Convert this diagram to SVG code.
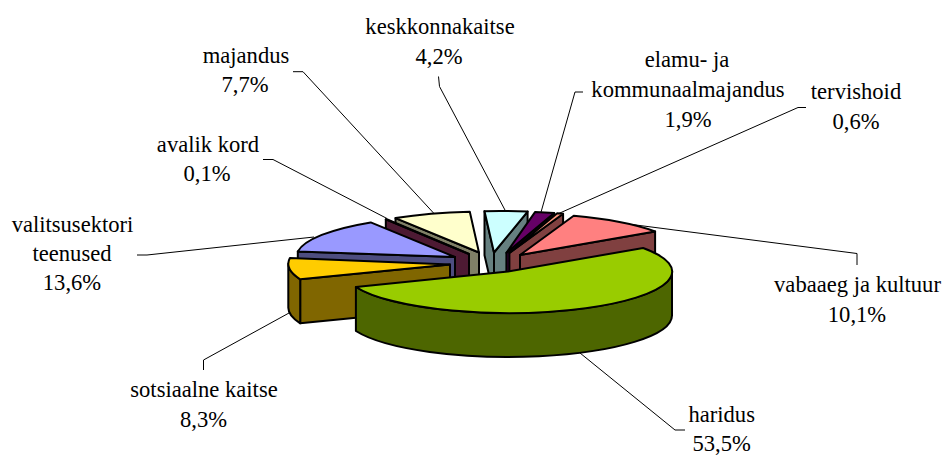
<svg xmlns="http://www.w3.org/2000/svg" width="947" height="455" viewBox="0 0 947 455">
<style>
.f{stroke:#000;stroke-width:2;stroke-linejoin:round}
text{font-family:Liberation Serif,Times New Roman,Times,Nimbus Roman,DejaVu Serif,Noto Serif,serif;font-size:22.6px;fill:#000;text-anchor:middle}
.ld{fill:none;stroke:#000;stroke-width:1}
</style>
<rect width="947" height="455" fill="#fff"/>
<g id="majandus">
<path class="f" fill="#808066" d="M479,252.5 L395.5,218.1 L395.5,262.1 L479,296.5 Z"/>
<path class="f" fill="#FFFFCC" d="M479,252.5 L395.5,218.1 A164,41.5 0 0 1 469.8,211.7 Z"/>
<text x="246" y="63.3">majandus</text>
<text x="245" y="92">7,7%</text>
</g>
<g id="avalik-kord">
<path class="f" fill="#4D1A33" d="M469,254 L385.8,219.3 L385.8,263.3 L469,298 Z"/>
<path class="f" fill="#993366" d="M469,254 L385.8,219.3 A164,41.5 0 0 1 386.7,219.2 Z"/>
<text x="208" y="151.5">avalik kord</text>
<text x="207" y="181">0,1%</text>
</g>
<g id="keskkonnakaitse">
<path class="f" fill="#668080" d="M494,252.5 L484.5,211.2 L484.5,255.2 L494,296.5 Z"/>
<path class="f" fill="#668080" d="M494,252.5 L527.6,211.6 L527.6,255.6 L494,296.5 Z"/>
<path class="f" fill="#CCFFFF" d="M494,252.5 L484.5,211.2 A164,41.5 0 0 1 527.6,211.6 Z"/>
<text x="440" y="34">keskkonnakaitse</text>
<text x="439" y="63.5">4,2%</text>
</g>
<g id="elamu">
<path class="f" fill="#330033" d="M506.4,252.8 L554.2,213.1 L554.2,257.1 L506.4,296.8 Z"/>
<path class="f" fill="#660066" d="M506.4,252.8 L535.2,211.9 A164,41.5 0 0 1 554.2,213.1 Z"/>
<text x="687" y="67">elamu- ja</text>
<text x="688" y="97">kommunaalmajandus</text>
<text x="688" y="126.5">1,9%</text>
</g>
<g id="tervishoid">
<path class="f" fill="#804040" d="M509.4,253 L563.1,213.8 L563.1,257.8 L509.4,297 Z"/>
<path class="f" fill="#FF9980" d="M509.4,253 L557.2,213.3 A164,41.5 0 0 1 563.1,213.8 Z"/>
<text x="856" y="99">tervishoid</text>
<text x="856" y="128.5">0,6%</text>
</g>
<g id="vabaaeg">
<path class="f" fill="#804040" d="M520,255 L655.1,231.5 L655.1,275.5 L520,299 Z"/>
<path class="f" fill="#FF8080" d="M520,255 L573.7,215.8 A164,41.5 0 0 1 655.1,231.5 Z"/>
<text x="857.5" y="291.5">vabaaeg ja kultuur</text>
<text x="857" y="321.5">10,1%</text>
</g>
<g id="valitsusektori">
<path class="f" fill="#4D4D80" d="M455,257 L297.8,251.5 L297.8,295.5 L455,301 Z"/>
<path class="f" fill="#9999FF" d="M455,257 L297.8,251.5 A164,41.5 0 0 1 370.7,222.4 Z"/>
<text x="72.5" y="231.5">valitsusektori</text>
<text x="72" y="261">teenused</text>
<text x="72" y="290">13,6%</text>
</g>
<g id="sotsiaalne">
<path class="f" fill="#806600" d="M450,264.5 L300.2,279.3 L300.2,323.3 L450,308.5 Z"/>
<path class="f" fill="#806600" d="M300.2,279.3 A164,41.5 0 0 1 288.3,263.8 L288.3,307.8 A164,41.5 0 0 0 300.2,323.3 Z"/>
<path class="f" fill="#FFCC00" d="M450,264.5 L300.2,279.3 A164,41.5 0 0 1 289.9,258.1 Z"/>
<text x="204" y="397">sotsiaalne kaitse</text>
<text x="203.5" y="427">8,3%</text>
</g>
<g id="haridus">
<path class="f" fill="#4D6600" d="M672,271.5 A164,41.5 0 0 1 355.9,287 L355.9,331 A164,41.5 0 0 0 672,315.5 Z"/>
<path class="f" fill="#99CC00" d="M508,271.5 L643.1,248 A164,41.5 0 1 1 355.9,287 Z"/>
<text x="721.7" y="422">haridus</text>
<text x="721.7" y="450.5">53,5%</text>
</g>
<g id="connectors">
<path class="ld" d="M438.5,76.5 L439.5,86.5 L505.5,211"/>
<path class="ld" d="M583,92 L575,92 L541,212.2"/>
<path class="ld" d="M806,107.5 L798,107.5 L559,213.4"/>
<path class="ld" d="M857,265 L857,253.5 L632,224.5"/>
<path class="ld" d="M685,430 L675,430 L580,353"/>
<path class="ld" d="M203.5,370 L203.5,360 L289,313"/>
<path class="ld" d="M137,255 L147,255 L314,237"/>
<path class="ld" d="M263,159.5 L273,159.5 L387,218.5"/>
<path class="ld" d="M293,71.7 L303,71.7 L434,213.5"/>
</g>
</svg>
